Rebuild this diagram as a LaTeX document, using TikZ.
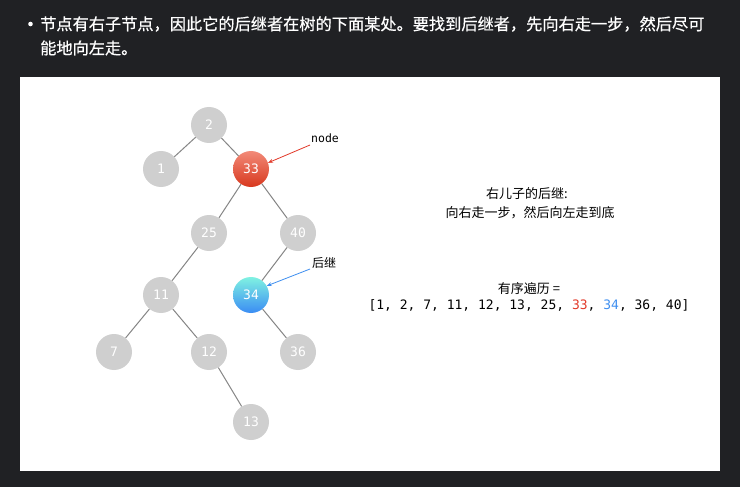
\documentclass[tikz,border=0pt]{standalone}
\usepackage{fontspec}
\usetikzlibrary{arrows.meta}
\setmainfont{Liberation Sans}
\newfontfamily\cjk{Noto Sans CJK SC}
\newfontfamily\cjkhead[FakeBold=0.6]{Noto Sans CJK SC}
\newfontfamily\monof{DejaVu Sans Mono}
\definecolor{bgdark}{HTML}{202124}
\definecolor{nodegray}{HTML}{CFCFCF}
\definecolor{edgegray}{HTML}{858585}
\definecolor{redtop}{HTML}{F28A78}
\definecolor{redbot}{HTML}{D8381E}
\definecolor{bluetop}{HTML}{80F2E2}
\definecolor{bluebot}{HTML}{3A8CF4}
\definecolor{listred}{HTML}{E23A2A}
\definecolor{listblue}{HTML}{3F8FF0}
\begin{document}
\begin{tikzpicture}[x=1pt,y=-1pt,
  tn/.style={circle,minimum size=36pt,inner sep=0pt,fill=nodegray,text=white,font=\monof\fontsize{13}{13}\selectfont},
  edge/.style={draw=edgegray,line width=1pt},
  lbl/.style={font=\cjk\fontsize{13}{15}\selectfont,text=black,inner sep=1pt}]
\fill[bgdark] (0,0) rectangle (740,487);
\useasboundingbox (0,0) rectangle (740,487);
\fill[white] (20,77) rectangle (720,471);
% header
\fill[white] (30.5,24) circle (2.3);
\node[anchor=west,text=white,font=\cjkhead\fontsize{16.2}{24}\selectfont,inner sep=0pt] (h1) at (40,24) {节点有右子节点，因此它的后继者在树的下面某处。要找到后继者，先向右走一步，然后尽可};
\node[anchor=west,text=white,font=\cjkhead\fontsize{16.2}{24}\selectfont,inner sep=0pt] (h2) at (40,48) {能地向左走。};
% tree
\node[tn] (n2) at (209,125) {2};
\node[tn] (n1) at (161,169) {1};
\node[tn,shading=axis,top color=redtop,bottom color=redbot,fill=none] (n33) at (251,169) {33};
\node[tn] (n25) at (209,233) {25};
\node[tn] (n40) at (298,233) {40};
\node[tn] (n11) at (161,295) {11};
\node[tn,shading=axis,top color=bluetop,bottom color=bluebot,fill=none] (n34) at (251,295) {34};
\node[tn] (n7) at (114,352) {7};
\node[tn] (n12) at (209,352) {12};
\node[tn] (n36) at (298,352) {36};
\node[tn] (n13) at (251,422) {13};
\draw[edge] (n2) -- (n1);
\draw[edge] (n2) -- (n33);
\draw[edge] (n33) -- (n25);
\draw[edge] (n33) -- (n40);
\draw[edge] (n25) -- (n11);
\draw[edge] (n40) -- (n34);
\draw[edge] (n11) -- (n7);
\draw[edge] (n11) -- (n12);
\draw[edge] (n34) -- (n36);
\draw[edge] (n12) -- (n13);
% labels
\node[font=\monof\fontsize{11.5}{12}\selectfont,anchor=west,inner sep=1pt] (lnode) at (310,138) {node};
\coordinate (a1s) at (310,145);
\draw[listred,line width=0.8pt,-{Stealth[length=5pt,width=4pt]}] (a1s) -- (n33.20);
\node[lbl,anchor=west,font=\cjk\fontsize{12}{14}\selectfont] (lsucc) at (311,263) {后继};
\coordinate (a2s) at (310,269);
\draw[listblue,line width=0.8pt,-{Stealth[length=5pt,width=4pt]}] (a2s) -- (n34.30);
% right text
\node[lbl] (t1) at (527,194) {右儿子的后继:};
\node[lbl] (t2) at (530,213) {向右走一步，然后向左走到底};
\node[lbl] (t3) at (529,289) {有序遍历 =};
\node[font=\monof\fontsize{13}{15}\selectfont,inner sep=0pt] (t4) at (529,305) {[1, 2, 7, 11, 12, 13, 25, \textcolor{listred}{33}, \textcolor{listblue}{34}, 36, 40]};
\end{tikzpicture}
\end{document}
